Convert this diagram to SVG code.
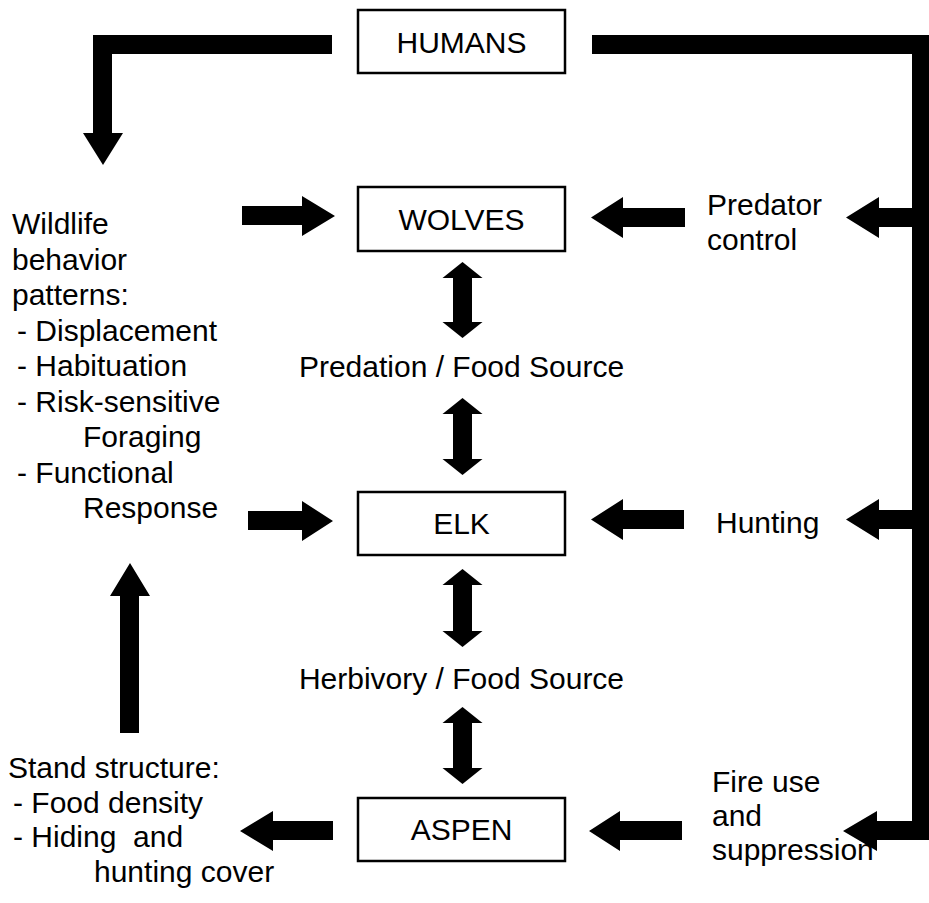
<svg xmlns="http://www.w3.org/2000/svg" width="929" height="903" viewBox="0 0 929 903">
<style>
text{font-family:"Liberation Sans",Arial,sans-serif;font-size:30px;fill:#000}
.c{text-anchor:middle}
.box{fill:#fff;stroke:#000;stroke-width:2.5}
.ar{fill:#000;stroke:none}
</style>
<rect width="929" height="903" fill="#fff"/>
<g id="connectors">
<polygon class="ar" points="332,35 93,35 93,133 83,133 103,165 123,133 112,133 112,54 332,54"/>
<polygon class="ar" points="592,35 931,35 931,840 912,840 912,54 592,54"/>
<polygon class="ar" points="912,208 879,208 879,197 846,217.5 879,238 879,227 912,227"/>
<polygon class="ar" points="912,510 879,510 879,499 846,519.5 879,540 879,529 912,529"/>
<polygon class="ar" points="912,821 877,821 877,811 843,831 877,851 877,840 912,840"/>
<polygon class="ar" points="685,208 623,208 623,197 591,217.5 623,238 623,227 685,227"/>
<polygon class="ar" points="684,510 623,510 623,499 591,519.5 623,540 623,529 684,529"/>
<polygon class="ar" points="682,821 620,821 620,811 589,831 620,851 620,840 682,840"/>
<polygon class="ar" points="242,206 302,206 302,196 335,216 302,236 302,225 242,225"/>
<polygon class="ar" points="248,511 302,511 302,501 333,521 302,541 302,530 248,530"/>
<polygon class="ar" points="333,821 273,821 273,811 240,831 273,851 273,840 333,840"/>
<polygon class="ar" points="120,733 120,596 110,596 130,563 150,596 139,596 139,733"/>
<polygon class="ar" points="462.5,262 482.5,278 472,278 472,322 482.5,322 462.5,338 442.5,322 453,322 453,278 442.5,278"/>
<polygon class="ar" points="462.5,398 482.5,414 472,414 472,459 482.5,459 462.5,475 442.5,459 453,459 453,414 442.5,414"/>
<polygon class="ar" points="462.5,569 482.5,585 472,585 472,631 482.5,631 462.5,647 442.5,631 453,631 453,585 442.5,585"/>
<polygon class="ar" points="462.5,707 482.5,723 472,723 472,768 482.5,768 462.5,784 442.5,768 453,768 453,723 442.5,723"/>
</g>
<g id="humans"><rect class="box" x="358" y="10" width="207" height="63"/><text class="c" x="461.5" y="52.5">HUMANS</text></g>
<g id="wolves"><rect class="box" x="358" y="187" width="207" height="64"/><text class="c" x="461.5" y="229.5">WOLVES</text></g>
<g id="elk"><rect class="box" x="358" y="492" width="207" height="63"/><text class="c" x="461.5" y="534">ELK</text></g>
<g id="aspen"><rect class="box" x="358" y="798" width="207" height="63"/><text class="c" x="461.5" y="840">ASPEN</text></g>
<g id="predation"><text class="c" x="461.5" y="377">Predation / Food Source</text></g>
<g id="herbivory"><text class="c" x="461.5" y="689">Herbivory / Food Source</text></g>
<g id="predator-control"><text x="707" y="215">Predator</text><text x="707" y="250">control</text></g>
<g id="hunting"><text x="716" y="533">Hunting</text></g>
<g id="fire"><text x="712" y="792">Fire use</text><text x="712" y="826">and</text><text x="712" y="860">suppression</text></g>
<g id="wildlife">
<text x="12" y="234">Wildlife</text>
<text x="12" y="269.5">behavior</text>
<text x="12" y="305">patterns:</text>
<text x="17" y="340.5">- Displacement</text>
<text x="17" y="376">- Habituation</text>
<text x="17" y="411.5">- Risk-sensitive</text>
<text x="83" y="447">Foraging</text>
<text x="17" y="482.5">- Functional</text>
<text x="83" y="518">Response</text>
</g>
<g id="stand">
<text x="8" y="778">Stand structure:</text>
<text x="13" y="812.5">- Food density</text>
<text x="13" y="847">- Hiding&#160; and</text>
<text x="94" y="882">hunting cover</text>
</g>
</svg>
